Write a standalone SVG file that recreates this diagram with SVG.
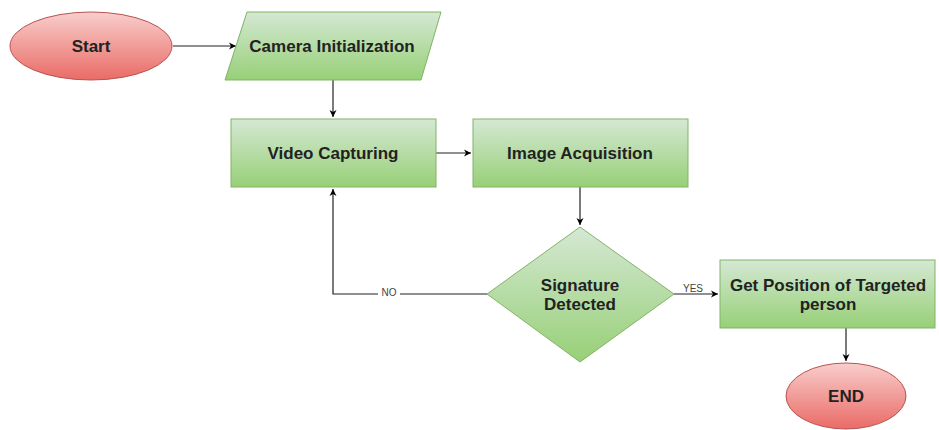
<svg xmlns="http://www.w3.org/2000/svg" width="939" height="430" viewBox="0 0 939 430">
<defs>
<linearGradient id="g" x1="0" y1="0" x2="0" y2="1"><stop offset="0" stop-color="#d5e8d4"/><stop offset="1" stop-color="#97d077"/></linearGradient>
<linearGradient id="r" x1="0" y1="0" x2="0" y2="1"><stop offset="0" stop-color="#f8cecc"/><stop offset="1" stop-color="#ea6b66"/></linearGradient>
<marker id="a" markerWidth="10" markerHeight="10" refX="8" refY="5" orient="auto" markerUnits="userSpaceOnUse"><path d="M1,1.5 L8,5 L1,8.5 L3,5 Z" fill="#000"/></marker>
</defs>
<style>
.gn{fill:url(#g);stroke:#82b366;stroke-width:1}
.rn{fill:url(#r);stroke:#b85450;stroke-width:1}
.t{font-family:"Liberation Sans",Arial,sans-serif;font-weight:bold;font-size:17px;fill:#222;text-anchor:middle}
.e{fill:none;stroke:#222;stroke-width:1.2}
.l{font-family:"Liberation Sans",Arial,sans-serif;font-size:10px;fill:#444;text-anchor:middle}
</style>
<rect width="939" height="430" fill="#fff"/>
<g id="connectors">
<path class="e" d="M173,46 L236,46" marker-end="url(#a)"/>
<path class="e" d="M333,80 L333,117" marker-end="url(#a)"/>
<path class="e" d="M436,153 L471,153" marker-end="url(#a)"/>
<path class="e" d="M580,187 L580,225" marker-end="url(#a)"/>
<path class="e" d="M487,294 L333,294 L333,189" marker-end="url(#a)"/>
<path class="e" d="M674,294 L718,294" marker-end="url(#a)"/>
<path class="e" d="M846,328 L846,361" marker-end="url(#a)"/>
<rect x="378" y="287" width="22" height="11" fill="#fff"/>
<text class="l" x="389" y="296">NO</text>
<rect x="680" y="282" width="26" height="11" fill="#fff"/>
<text class="l" x="693" y="292">YES</text>
</g>
<g id="start"><ellipse class="rn" cx="91" cy="46" rx="81" ry="34"/><text class="t" x="91" y="52">Start</text></g>
<g id="camera"><polygon class="gn" points="247,12 441,12 421,80 225,80"/><text class="t" x="332" y="52">Camera Initialization</text></g>
<g id="video"><rect class="gn" x="231" y="119" width="205" height="68"/><text class="t" x="333" y="159">Video Capturing</text></g>
<g id="image"><rect class="gn" x="473" y="119" width="215" height="68"/><text class="t" x="580" y="159">Image Acquisition</text></g>
<g id="decision"><polygon class="gn" points="580,227 674,294 580,362 487,294"/><text class="t" x="580" y="291">Signature</text><text class="t" x="580" y="310">Detected</text></g>
<g id="getpos"><rect class="gn" x="720" y="260" width="215" height="68"/><text class="t" x="828" y="291">Get Position of Targeted</text><text class="t" x="828" y="310">person</text></g>
<g id="end"><ellipse class="rn" cx="846" cy="396" rx="60" ry="33"/><text class="t" x="846" y="402">END</text></g>
</svg>
